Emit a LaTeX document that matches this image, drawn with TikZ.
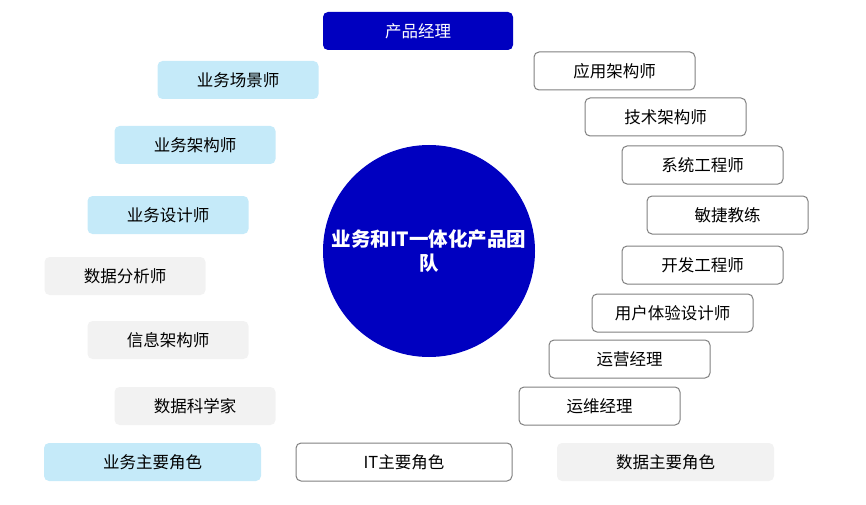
\documentclass[tikz,border=0pt]{standalone}
\usepackage{fontspec}
\setmainfont{Noto Sans CJK SC}
\definecolor{deepblue}{HTML}{0000C0}
\definecolor{bizblue}{HTML}{C5EAF9}
\definecolor{datgray}{HTML}{F2F2F2}
\definecolor{edgegray}{HTML}{808080}
\begin{document}
\begin{tikzpicture}[x=1pt,y=-1pt,
  role/.style={rounded corners=5pt, inner sep=0pt, minimum width=161pt, minimum height=38pt, font=\fontsize{16.5}{19}\selectfont},
  pmbox/.style={role, fill=deepblue, text=white, minimum width=190pt},
  bizbox/.style={role, fill=bizblue},
  datbox/.style={role, fill=datgray},
  itbox/.style={role, draw=edgegray, line width=1pt, fill=white},
  hub/.style={circle, fill=deepblue, text=white, minimum size=212pt, inner sep=0pt, align=center, font=\fontsize{19.5}{24}\selectfont\bfseries}
]
\useasboundingbox (0,0) rectangle (866,505);
% centre
\node[hub] (team) at (429,251) {业务和IT一体化产品团\\队};
% top
\node[pmbox] (pm) at (418,31) {产品经理};
% left
\node[bizbox] (scene) at (238,80) {业务场景师};
\node[bizbox] (barch) at (195,145) {业务架构师};
\node[bizbox] (bdes) at (168,215) {业务设计师};
\node[datbox] (dana) at (125,276) {数据分析师};
\node[datbox] (iarch) at (168,340) {信息架构师};
\node[datbox] (dsci) at (195,406) {数据科学家};
% right
\node[itbox] (aarch) at (614.5,71) {应用架构师};
\node[itbox] (tarch) at (665.5,117) {技术架构师};
\node[itbox] (syse) at (702.5,165) {系统工程师};
\node[itbox] (agile) at (727.5,215) {敏捷教练};
\node[itbox] (deve) at (702.5,265) {开发工程师};
\node[itbox] (uxd) at (672.5,313) {用户体验设计师};
\node[itbox] (opm) at (629.5,359) {运营经理};
\node[itbox] (omm) at (599.5,406) {运维经理};
% legend
\node[bizbox, minimum width=217pt] (lbiz) at (152.5,462) {业务主要角色};
\node[itbox, minimum width=216pt] (lit) at (404,462) {IT主要角色};
\node[datbox, minimum width=217pt] (ldat) at (665.5,462) {数据主要角色};
\end{tikzpicture}
\end{document}
